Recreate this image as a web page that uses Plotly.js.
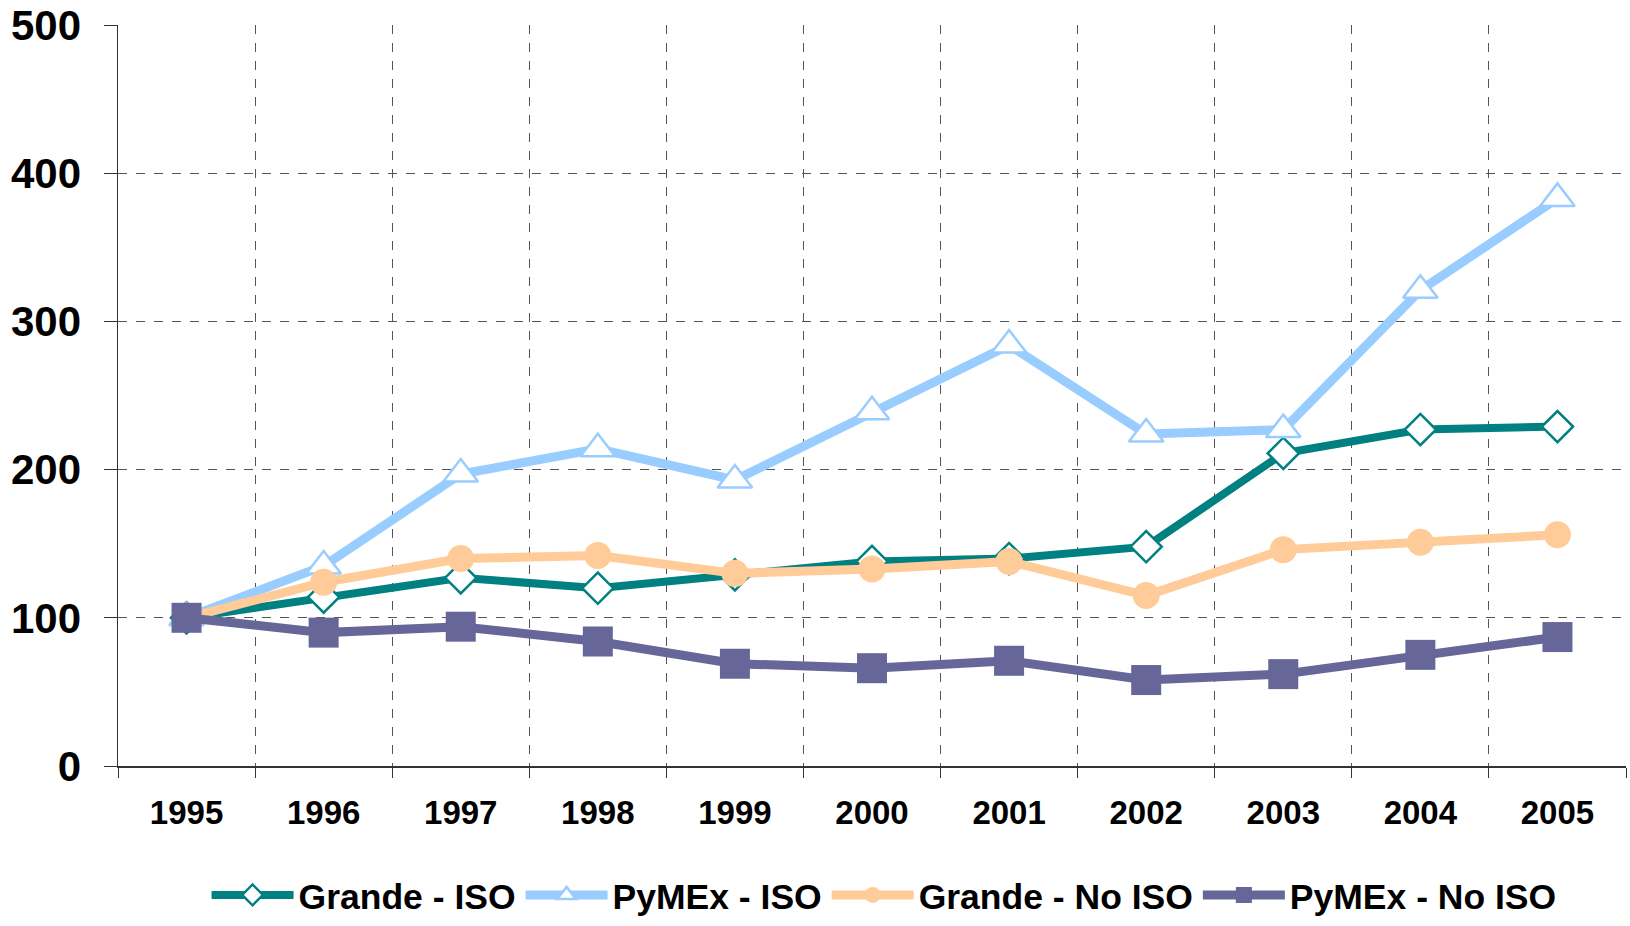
<!DOCTYPE html>
<html>
<head>
<meta charset="utf-8">
<script src="https://cdn.plot.ly/plotly-3.0.1.min.js"></script>
<style>
html,body{margin:0;padding:0;background:#fff;}
#chart{width:1630px;height:926px;}
</style>
</head>
<body>
<div id="chart"></div>
<script>
var years = ['1995','1996','1997','1998','1999','2000','2001','2002','2003','2004','2005'];
var grandeISO   = [100, 114, 127, 120, 129, 138, 140, 148, 211, 227, 229];
var pymexISO    = [100, 135, 197, 214, 193, 239, 284, 224, 227, 321, 383];
var grandeNoISO = [100, 124, 140, 142, 130, 133, 138, 115, 146, 151, 156];
var pymexNoISO  = [100,  90,  94,  84,  69,  66,  71,  58,  62,  75,  87];
var yTicks = [0, 100, 200, 300, 400, 500];

var traces = [
  {x: years, y: grandeISO, name: 'Grande - ISO', type: 'scatter', mode: 'lines+markers',
   line: {color: '#008080', width: 8},
   marker: {symbol: 'diamond', size: 24, color: '#ffffff', line: {color: '#008080', width: 2.5}}},
  {x: years, y: pymexISO, name: 'PyMEx - ISO', type: 'scatter', mode: 'lines+markers',
   line: {color: '#99CCFF', width: 9},
   marker: {symbol: 'triangle-up', size: 30, color: '#ffffff', line: {color: '#99CCFF', width: 2.5}}},
  {x: years, y: grandeNoISO, name: 'Grande - No ISO', type: 'scatter', mode: 'lines+markers',
   line: {color: '#FFCC99', width: 9},
   marker: {symbol: 'circle', size: 27, color: '#FFCC99'}},
  {x: years, y: pymexNoISO, name: 'PyMEx - No ISO', type: 'scatter', mode: 'lines+markers',
   line: {color: '#666699', width: 9},
   marker: {symbol: 'square', size: 30, color: '#666699'}}
];

var layout = {
  width: 1630, height: 926,
  margin: {l: 118, r: 4, t: 25, b: 160, autoexpand: false},
  paper_bgcolor: '#ffffff', plot_bgcolor: '#ffffff',
  showlegend: true,
  font: {family: 'Liberation Sans, Arial, sans-serif', color: '#000000'},
  xaxis: {
    type: 'category', tickson: 'boundaries', range: [-0.5, 10.5],
    showgrid: true, gridcolor: '#555555', griddash: 'dash', gridwidth: 1,
    ticks: 'outside', ticklen: 10, tickcolor: '#333333', tickwidth: 1,
    showline: true, linecolor: '#333333', linewidth: 1.5,
    ticklabelstandoff: 17,
    tickfont: {family: 'Liberation Sans, Arial', size: 33, weight: 'bold', color: '#000'},
    fixedrange: true
  },
  yaxis: {
    range: [0, 500], tickvals: yTicks, ticktext: yTicks.map(String),
    showgrid: true, gridcolor: '#555555', griddash: 'dash', gridwidth: 1,
    zeroline: false,
    ticks: 'outside', ticklen: 13, tickcolor: '#333333', tickwidth: 1,
    showline: true, linecolor: '#333333', linewidth: 1.5,
    ticklabelstandoff: 14,
    tickfont: {family: 'Liberation Sans, Arial', size: 42, weight: 'bold', color: '#000'},
    fixedrange: true
  },
  legend: {
    orientation: 'h', x: 0.508, xanchor: 'center', y: -0.215, yanchor: 'bottom',
    font: {family: 'Liberation Sans, Arial', size: 35.5, weight: 'bold', color: '#000'},
    itemwidth: 82, bgcolor: 'rgba(0,0,0,0)'
  }
};

Plotly.newPlot('chart', traces, layout, {displayModeBar: false, staticPlot: true});
</script>
</body>
</html>
